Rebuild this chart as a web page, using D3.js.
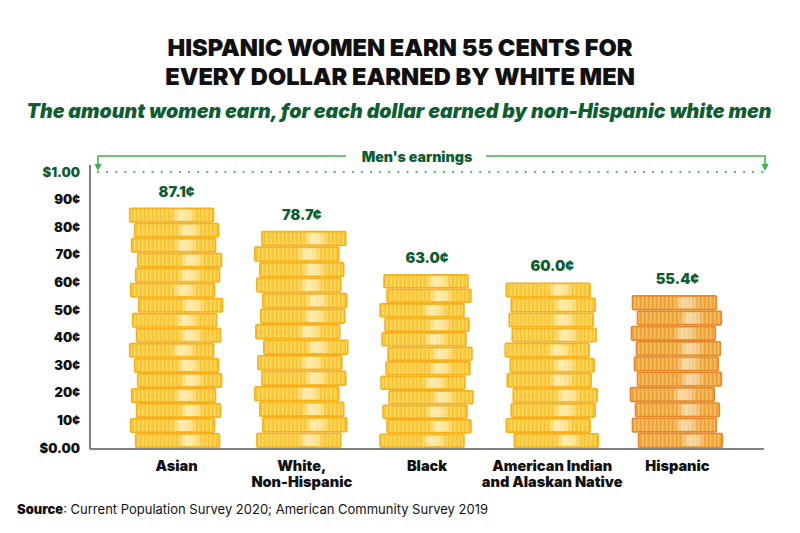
<!DOCTYPE html>
<html>
<head>
<meta charset="utf-8">
<script src="https://cdn.jsdelivr.net/npm/d3@7"></script>
<style>
  body { margin: 0; background: #fff; }
  svg text { font-family: Inter, "Open Sans", sans-serif; }
</style>
</head>
<body>
<svg class="chart"></svg>
<script>
var groups = ["Asian", "White, Non-Hispanic", "Black", "American Indian and Alaskan Native", "Hispanic"];
var labelLines = [["Asian"], ["White,", "Non-Hispanic"], ["Black"], ["American Indian", "and Alaskan Native"], ["Hispanic"]];
var earnings = [0.871, 0.787, 0.630, 0.600, 0.554];
var valueLabels = ["87.1¢", "78.7¢", "63.0¢", "60.0¢", "55.4¢"];
var tickValues = [0, 0.1, 0.2, 0.3, 0.4, 0.5, 0.6, 0.7, 0.8, 0.9, 1.0];
var tickLabels = ["$0.00", "10¢", "20¢", "30¢", "40¢", "50¢", "60¢", "70¢", "80¢", "90¢", "$1.00"];

var width = 800;
var height = 533;
var svg = d3.select(".chart").attr("width", width).attr("height", height);

var x = d3.scaleBand().domain(groups).range([114, 740]);
var y = d3.scaleLinear().domain([0, 1]).range([448, 172]);

// coin looks: stripes + highlight
var defs = svg.append("defs");
var looks = {
  gold: {base: "#fdc52c", stripe: "#ffdb6a", edge: "#f6b01c", hi: "#fff3c4"},
  orange: {base: "#f4a236", stripe: "#f9c46a", edge: "#e8862a", hi: "#f5e2b8"}
};
Object.keys(looks).forEach(function(k){
  var c = looks[k];
  var p = defs.append("pattern").attr("id", "stripe-" + k)
      .attr("width", 4).attr("height", 10).attr("patternUnits", "userSpaceOnUse");
  p.append("rect").attr("width", 4).attr("height", 10).attr("fill", c.base);
  p.append("rect").attr("x", 2).attr("width", 1.4).attr("height", 10).attr("fill", c.stripe);
  var g = defs.append("linearGradient").attr("id", "hi-" + k);
  g.append("stop").attr("offset", "0.5").attr("stop-color", c.hi).attr("stop-opacity", 0);
  g.append("stop").attr("offset", "0.6").attr("stop-color", c.hi).attr("stop-opacity", 0.85);
  g.append("stop").attr("offset", "0.72").attr("stop-color", c.hi).attr("stop-opacity", 0.6);
  g.append("stop").attr("offset", "0.8").attr("stop-color", c.hi).attr("stop-opacity", 0);
});

// title
svg.append("text").attr("x", 400).attr("y", 56).attr("text-anchor", "middle")
    .attr("font-size", 23.6).attr("font-weight", 900).attr("fill", "#111")
    .text("HISPANIC WOMEN EARN 55 CENTS FOR");
svg.append("text").attr("x", 400).attr("y", 85).attr("text-anchor", "middle")
    .attr("font-size", 23.6).attr("font-weight", 900).attr("fill", "#111")
    .text("EVERY DOLLAR EARNED BY WHITE MEN");
svg.append("text").attr("x", 399).attr("y", 118).attr("text-anchor", "middle")
    .attr("font-size", 19.6).attr("font-weight", 900).attr("font-style", "italic").attr("fill", "#0d5e30")
    .text("The amount women earn, for each dollar earned by non-Hispanic white men");

// men's earnings bracket
var green = "#39b54a";
var xl = 98, xr = 765;
svg.append("path")
    .attr("d", "M" + xl + "," + 166 + "V156H" + 346 + "M" + 486 + ",156H" + xr + "V166")
    .attr("fill", "none").attr("stroke", green).attr("stroke-width", 1.5);
[xl, xr].forEach(function(px){
  svg.append("path").attr("d", "M" + (px - 3.5) + ",164L" + (px + 3.5) + ",164L" + px + ",171Z").attr("fill", green);
});
svg.append("text").attr("x", 417).attr("y", 162).attr("text-anchor", "middle")
    .attr("font-size", 14.2).attr("font-weight", 900).attr("fill", "#0d5e30").text("Men's earnings");
svg.append("line").attr("x1", xl).attr("x2", xr).attr("y1", y(1)).attr("y2", y(1))
    .attr("stroke", green).attr("stroke-width", 2.2).attr("stroke-linecap", "round")
    .attr("stroke-dasharray", "0.1 9");

// y axis
var yAxis = d3.axisLeft(y).tickValues(tickValues).tickSize(0).tickPadding(10)
    .tickFormat(function(d, i){ return tickLabels[i]; });
var ya = svg.append("g").attr("transform", "translate(90,0)").call(yAxis);
ya.select(".domain").remove();
ya.selectAll("text").attr("font-size", 13).attr("font-weight", 900)
    .attr("font-family", "Inter, sans-serif")
    .attr("fill", function(d){ return d === 1 ? "#0d5e30" : "#111"; });
svg.append("line").attr("x1", 90).attr("x2", 90).attr("y1", 165).attr("y2", 449)
    .attr("stroke", "#808080").attr("stroke-width", 2);

// coin stacks
var shift = [1, -4, 2, -3, 3, 0, -5, 2, -2, 4, -4, 1, 3, -3, 0, -5, 2, -1];
var bw = x.bandwidth() * 0.67;
groups.forEach(function(gname, i){
  var k = gname === "Hispanic" ? "orange" : "gold";
  var c = looks[k];
  var h = y(0) - y(earnings[i]);
  var n = Math.round(h / 15);
  var ch = h / n;
  var cx = x(gname) + x.bandwidth() / 2;
  var stack = svg.append("g");
  d3.range(n).forEach(function(j){
    var top = y(0) - (j + 1) * ch;
    var left = cx - bw / 2 + shift[(j + i * 3) % shift.length];
    stack.append("rect").attr("x", left).attr("y", top + 0.8).attr("width", bw).attr("height", ch - 1.6)
        .attr("rx", 1).attr("fill", "url(#stripe-" + k + ")").attr("stroke", c.edge).attr("stroke-width", 1.6);
    stack.append("rect").attr("x", left + 1).attr("y", top + 2).attr("width", bw - 2).attr("height", ch - 4)
        .attr("fill", "url(#hi-" + k + ")");
  });
  svg.append("text").attr("x", cx).attr("y", y(earnings[i]) - 11).attr("text-anchor", "middle")
      .attr("font-size", 14.5).attr("font-weight", 900).attr("fill", "#0d5e30").text(valueLabels[i]);
});

// baseline + category labels
svg.append("line").attr("x1", 90).attr("x2", 764).attr("y1", 449).attr("y2", 449)
    .attr("stroke", "#808080").attr("stroke-width", 2);
groups.forEach(function(gname, i){
  var cx = x(gname) + x.bandwidth() / 2;
  var t = svg.append("text").attr("x", cx).attr("y", 471)
      .attr("text-anchor", "middle").attr("font-size", 14.5).attr("font-weight", 900).attr("fill", "#111");
  labelLines[i].forEach(function(line, j){
    t.append("tspan").attr("x", cx).attr("dy", j === 0 ? 0 : 15.5).text(line);
  });
});

// source
var src = svg.append("text").attr("x", 17).attr("y", 514).attr("font-size", 13).attr("fill", "#111");
src.append("tspan").attr("font-weight", 900).text("Source");
src.append("tspan").text(": Current Population Survey 2020; American Community Survey 2019");
</script>
</body>
</html>
